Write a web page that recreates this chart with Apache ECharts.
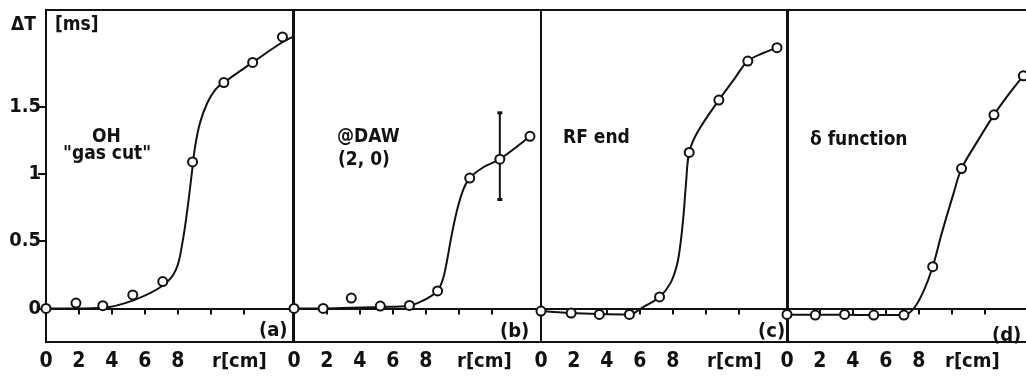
<!DOCTYPE html>
<html>
<head>
<meta charset="utf-8">
<script src="https://cdn.jsdelivr.net/npm/echarts@6/dist/echarts.min.js"></script>
<style>
  html, body { margin: 0; padding: 0; background: #fff; }
  #chart { width: 1026px; height: 380px; }
</style>
</head>
<body>
<div id="chart"></div>
<script>
// Delay ΔT [ms] versus radius r [cm] for four cases (a)–(d).
const xTickValues = [0, 2, 4, 6, 8, 10, 12];
const xLabelValues = [0, 2, 4, 6, 8];
const yTickValues = [0, 0.5, 1, 1.5];

// (a) OH "gas cut"
const radiusA = [0, 1.82, 3.45, 5.27, 7.09, 8.9, 10.8, 12.55, 14.36];
const deltaA = [0, 0.04, 0.02, 0.10, 0.20, 1.09, 1.68, 1.83, 2.02];
const fitA = [[0, 0], [1.8, 0], [3.45, 0.005], [5.3, 0.06], [7.1, 0.17], [7.9, 0.29], [8.3, 0.50],
  [8.6, 0.75], [8.85, 1.0], [9.05, 1.2], [9.35, 1.38], [9.8, 1.53], [10.3, 1.63], [10.8, 1.68],
  [12.55, 1.83], [14.35, 1.98], [15.0, 2.02]];

// (b) @DAW (2, 0)
const radiusB = [0, 1.77, 3.48, 5.24, 7.01, 8.72, 10.67, 12.5, 14.33];
const deltaB = [0, 0, 0.077, 0.017, 0.022, 0.13, 0.97, 1.11, 1.28];
const fitB = [[0, 0], [1.8, 0], [3.5, 0.005], [5.3, 0.01], [7.0, 0.02], [7.7, 0.05], [8.3, 0.09],
  [8.72, 0.13], [9.05, 0.22], [9.3, 0.36], [9.55, 0.53], [9.9, 0.73], [10.27, 0.88], [10.67, 0.97],
  [11.5, 1.05], [12.5, 1.11], [14.33, 1.28]];
const errorB = [[12.5, 0.81, 1.455]];

// (c) RF end
const radiusC = [0, 1.83, 3.54, 5.37, 7.2, 9.0, 10.8, 12.56, 14.33];
const deltaC = [-0.02, -0.035, -0.045, -0.045, 0.085, 1.16, 1.55, 1.84, 1.94];
const fitC = [[0, -0.02], [1.83, -0.035], [3.54, -0.042], [5.37, -0.045], [6.2, 0.01], [7.2, 0.085],
  [7.87, 0.19], [8.27, 0.33], [8.5, 0.51], [8.68, 0.73], [8.8, 0.92], [9.0, 1.16], [9.5, 1.31],
  [10.8, 1.55], [11.7, 1.70], [12.56, 1.84], [13.5, 1.90], [14.33, 1.94], [14.6, 1.95]];

// (d) δ function
const radiusD = [0, 1.72, 3.5, 5.27, 7.1, 8.85, 10.6, 12.57, 14.35];
const deltaD = [-0.045, -0.05, -0.045, -0.05, -0.05, 0.31, 1.04, 1.44, 1.73];
const fitD = [[0, -0.045], [1.72, -0.048], [3.5, -0.048], [5.27, -0.05], [7.1, -0.05], [7.7, 0.0],
  [8.3, 0.13], [8.85, 0.31], [9.4, 0.56], [10.1, 0.85], [10.6, 1.04], [11.6, 1.25], [12.57, 1.44],
  [13.45, 1.59], [14.35, 1.73], [14.5, 1.75]];

const panelNotes = [
  { label: '(a)', lines: ['OH', '"gas cut"'] },
  { label: '(b)', lines: ['@DAW', '(2, 0)'] },
  { label: '(c)', lines: ['RF end'] },
  { label: '(d)', lines: ['δ function'] }
];

const FONT = "'DejaVu Sans Condensed', 'DejaVu Sans', sans-serif";
const INK = '#111';

const panelLefts = [46, 294, 541, 787];
const panelWidth = 247;
const plotTop = 10;
const plotHeight = 332;

const pairs = (xs, ys) => xs.map((x, i) => [x, ys[i]]);
const panels = [
  { pts: pairs(radiusA, deltaA), fit: fitA },
  { pts: pairs(radiusB, deltaB), fit: fitB },
  { pts: pairs(radiusC, deltaC), fit: fitC },
  { pts: pairs(radiusD, deltaD), fit: fitD }
];

const grid = panelLefts.map(left => ({
  left: left, top: plotTop, width: panelWidth, height: plotHeight,
  outerBoundsMode: 'none', containLabel: false,
  show: true, borderColor: INK, borderWidth: 2, backgroundColor: 'transparent'
}));

const xAxis = panelLefts.map((_, i) => ({
  type: 'value', gridIndex: i, min: 0, max: 15,
  axisLine: { show: true, lineStyle: { color: INK, width: 2 } },
  axisTick: { show: true, customValues: xTickValues, length: 6, lineStyle: { color: INK, width: 2 } },
  axisLabel: {
    show: true, customValues: xLabelValues, margin: 9,
    color: INK, fontFamily: FONT, fontWeight: 'bold', fontSize: 21
  },
  splitLine: { show: false }
}));

const yAxis = panelLefts.map((_, i) => ({
  type: 'value', gridIndex: i, min: -0.25, max: 2.22,
  axisLine: { show: true, lineStyle: { color: INK, width: 2 } },
  axisTick: { show: i === 0, customValues: yTickValues, length: 8, lineStyle: { color: INK, width: 2 } },
  axisLabel: {
    show: i === 0, customValues: yTickValues, margin: 5,
    color: INK, fontFamily: FONT, fontWeight: 'bold', fontSize: 20
  },
  splitLine: { show: false }
}));

const series = [];
panels.forEach((p, i) => {
  series.push({
    type: 'line', xAxisIndex: i, yAxisIndex: i, data: p.fit,
    smooth: 0.35, showSymbol: false, silent: true,
    lineStyle: { color: INK, width: 2 }, z: 2
  });
  series.push({
    type: 'scatter', xAxisIndex: i, yAxisIndex: i, data: p.pts,
    symbol: 'circle', symbolSize: 9, silent: true,
    itemStyle: { color: '#fff', borderColor: INK, borderWidth: 2, opacity: 1 }, z: 3
  });
});
series.push({
  type: 'custom', xAxisIndex: 1, yAxisIndex: 1, data: errorB, silent: true, z: 1,
  encode: { x: 0, y: [1, 2] },
  renderItem: (params, api) => {
    const x = api.value(0);
    const lo = api.coord([x, api.value(1)]);
    const hi = api.coord([x, api.value(2)]);
    const cap = 2.5;
    return {
      type: 'group',
      children: [
        { type: 'line', shape: { x1: lo[0], y1: lo[1], x2: hi[0], y2: hi[1] }, style: { stroke: INK, lineWidth: 2 } },
        { type: 'line', shape: { x1: lo[0] - cap, y1: lo[1], x2: lo[0] + cap, y2: lo[1] }, style: { stroke: INK, lineWidth: 3 } },
        { type: 'line', shape: { x1: hi[0] - cap, y1: hi[1], x2: hi[0] + cap, y2: hi[1] }, style: { stroke: INK, lineWidth: 3 } }
      ]
    };
  }
});

// text annotations
const textStyle = (text, size) => ({
  text: text, fill: INK, font: 'bold ' + size + 'px ' + FONT, textVerticalAlign: 'middle'
});
const graphic = [
  { type: 'text', x: 11, y: 25, style: textStyle('ΔT', 19) },
  { type: 'text', x: 55, y: 25, style: textStyle('[ms]', 19) }
];
const notePos = [
  [{ x: 92, y: 137 }, { x: 63, y: 154 }],
  [{ x: 337, y: 137 }, { x: 338, y: 160 }],
  [{ x: 563, y: 138 }],
  [{ x: 810, y: 140 }]
];
const tagPos = [{ x: 259, y: 331 }, { x: 500, y: 332 }, { x: 758, y: 332 }, { x: 992, y: 336 }];
const unitPos = [212, 457, 707, 945];
panelNotes.forEach((n, i) => {
  n.lines.forEach((line, j) => {
    graphic.push({ type: 'text', x: notePos[i][j].x, y: notePos[i][j].y, style: textStyle(line, 19) });
  });
  graphic.push({ type: 'text', x: tagPos[i].x, y: tagPos[i].y, style: textStyle(n.label, 20) });
  graphic.push({ type: 'text', x: unitPos[i], y: 362, style: textStyle('r[cm]', 20) });
});

const chart = echarts.init(document.getElementById('chart'), null, { renderer: 'canvas' });
chart.setOption({
  animation: false,
  backgroundColor: '#fff',
  grid: grid,
  xAxis: xAxis,
  yAxis: yAxis,
  series: series,
  graphic: graphic
});
</script>
</body>
</html>
